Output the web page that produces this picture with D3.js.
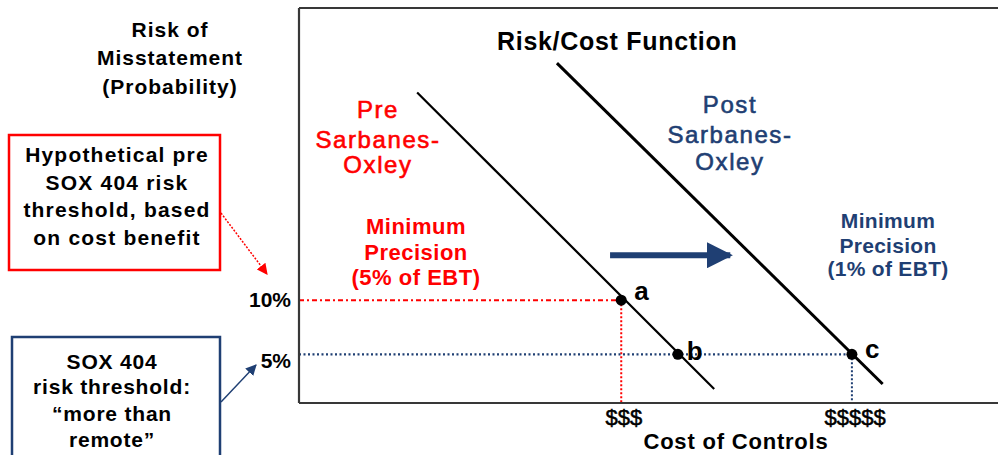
<!DOCTYPE html>
<html><head><meta charset="utf-8">
<script src="https://cdn.jsdelivr.net/npm/d3@7"></script>
<style>
html,body{margin:0;padding:0;background:#fff;}
svg{display:block;font-family:"Liberation Sans",Arial,sans-serif;}
</style></head>
<body>
<script>
// ---- data ----
const preLine = [{cost:16.9, risk:29.2},{cost:59.4, risk:1.8}];
const postLine = [{cost:36.9, risk:31.9},{cost:83.5, risk:2.26}];
const points = [
  {label:"a", cost:46.1, risk:10},
  {label:"b", cost:54.2, risk:5},
  {label:"c", cost:79.1, risk:5}
];
const yTickValues = [10, 5];
const yTickLabels = ["10%", "5%"];
const xTickValues = [46.4, 79.5];
const xTickLabels = ["$$$", "$$$$$"];
const shiftArrow = [{cost:44.5, risk:14.15},{cost:61.7, risk:14.15}];

const red = "#FF0000", navy = "#1F3F73", dark = "#383838";
const W = 998, H = 455;
const svg = d3.select("body").append("svg").attr("width", W).attr("height", H);

const x = d3.scaleLinear().domain([0, 100]).range([299, 998]);
const y = d3.scaleLinear().domain([0.5, 37]).range([403, 8]);

const defs = svg.append("defs");
function marker(id, color, size){
  defs.append("marker").attr("id", id).attr("viewBox","0 0 10 10")
    .attr("refX", 9).attr("refY", 5).attr("markerWidth", size).attr("markerHeight", size)
    .attr("markerUnits","userSpaceOnUse").attr("orient","auto")
    .append("path").attr("d","M0,0 L10,5 L0,10 Z").attr("fill", color);
}
marker("arrRed", red, 11);
marker("arrNavy", navy, 11);
marker("arrBig", navy, 26);

// ---- reference lines ----
const a = points[0], b = points[1], c = points[2];
svg.append("line").attr("x1", x(0)).attr("x2", x(a.cost)).attr("y1", y(a.risk)).attr("y2", y(a.risk))
  .attr("stroke", red).attr("stroke-width", 2).attr("stroke-dasharray", "5,3,2,3");
svg.append("line").attr("x1", x(a.cost)).attr("x2", x(a.cost)).attr("y1", y(a.risk)).attr("y2", y(0.5))
  .attr("stroke", red).attr("stroke-width", 2).attr("stroke-dasharray", "2,2");
svg.append("line").attr("x1", x(0)).attr("x2", x(c.cost)).attr("y1", y(c.risk)).attr("y2", y(c.risk))
  .attr("stroke", navy).attr("stroke-width", 2.2).attr("stroke-dasharray", "2,2.5");
svg.append("line").attr("x1", x(c.cost)).attr("x2", x(c.cost)).attr("y1", y(c.risk)).attr("y2", y(0.5))
  .attr("stroke", navy).attr("stroke-width", 2).attr("stroke-dasharray", "2,2");

// ---- frame / axes ----
svg.append("line").attr("x1", x(0)).attr("x2", W).attr("y1", y(37)).attr("y2", y(37))
  .attr("stroke", dark).attr("stroke-width", 2.2);

const yAxis = d3.axisLeft(y).tickValues(yTickValues).tickSize(0).tickPadding(8)
  .tickFormat((d,i) => yTickLabels[i]);
const gy = svg.append("g").attr("transform", `translate(${x(0)},0)`).call(yAxis);
gy.select(".domain").attr("stroke", dark).attr("stroke-width", 2.2).attr("d", `M0,${y(37)}V${y(0.5)}`);
gy.selectAll(".tick text").attr("font-size", 21).attr("font-weight", "bold").attr("fill", "#000")
  .attr("font-family", "Liberation Sans, Arial, sans-serif")
  .attr("dy", (d,i) => i === 0 ? "0.32em" : "0.65em");

const xAxis = d3.axisBottom(x).tickValues(xTickValues).tickSize(0).tickPadding(6)
  .tickFormat((d,i) => xTickLabels[i]);
const gx = svg.append("g").attr("transform", `translate(0,${y(0.5)})`).call(xAxis);
gx.select(".domain").attr("stroke", dark).attr("stroke-width", 2.2).attr("d", `M${x(0)},0H${W}`);
gx.selectAll(".tick text").attr("font-size", 22).attr("fill", "#000")
  .attr("stroke", "#000").attr("stroke-width", 0.5)
  .attr("font-family", "Liberation Sans, Arial, sans-serif");

// ---- function lines ----
const line = d3.line().x(d => x(d.cost)).y(d => y(d.risk));
svg.append("path").datum(preLine).attr("d", line).attr("stroke", "#000").attr("stroke-width", 2.2).attr("fill", "none");
svg.append("path").datum(postLine).attr("d", line).attr("stroke", "#000").attr("stroke-width", 3).attr("fill", "none");

// ---- points ----
svg.selectAll("circle.pt").data(points).join("circle").attr("class","pt")
  .attr("cx", d => x(d.cost)).attr("cy", d => y(d.risk)).attr("r", 5.5).attr("fill", "#000");
const lblOff = {a:[13,0], b:[9,6], c:[13,4]};
svg.selectAll("text.pt").data(points).join("text").attr("class","pt")
  .attr("x", d => x(d.cost) + lblOff[d.label][0]).attr("y", d => y(d.risk) + lblOff[d.label][1])
  .attr("font-size", 26).attr("font-weight", "bold").text(d => d.label);

// ---- shift arrow ----
svg.append("path").datum(shiftArrow).attr("d", line).attr("stroke", navy).attr("stroke-width", 6)
  .attr("fill", "none").attr("marker-end", "url(#arrBig)");

// ---- text helpers ----
function block(lines, cx, baselines, opts){
  const t = svg.append("text").attr("text-anchor", opts.anchor || "middle")
    .attr("font-size", opts.size).attr("font-weight", opts.weight || "normal")
    .attr("fill", opts.color || "#000").attr("letter-spacing", opts.ls || 0);
  if (opts.thick) t.attr("stroke", opts.color || "#000").attr("stroke-width", opts.thick);
  lines.forEach((s,i) => t.append("tspan").attr("x", cx).attr("y", baselines[i]).text(s));
}

block(["Risk/Cost Function"], 497, [50], {size:25, weight:"bold", anchor:"start", ls:0.7});
block(["Risk of", "Misstatement", "(Probability)"], 170, [37, 65, 94], {size:21, weight:"bold", ls:1});
block(["Pre", "Sarbanes-", "Oxley"], 378, [118, 148, 173], {size:24, color:red, ls:1.6, thick:0.6});
block(["Post", "Sarbanes-", "Oxley"], 730, [113, 143, 170], {size:24, color:navy, ls:1.6, thick:0.6});
block(["Minimum", "Precision", "(5% of EBT)"], 416, [234, 260, 285], {size:22, weight:"bold", color:red, ls:0.5});
block(["Minimum", "Precision", "(1% of EBT)"], 888, [228, 253, 276], {size:21, weight:"bold", color:navy, ls:0.3});
block(["Cost of Controls"], 736, [449], {size:22, weight:"bold", ls:0.8});

// ---- callout boxes ----
svg.append("rect").attr("x", 9).attr("y", 135).attr("width", 211).attr("height", 135)
  .attr("fill", "none").attr("stroke", red).attr("stroke-width", 2.5);
block(["Hypothetical pre", "SOX 404 risk", "threshold, based", "on cost benefit"], 117, [162, 190, 217, 245], {size:21, weight:"bold", ls:1.2});
svg.append("line").attr("x1", 221).attr("y1", 213).attr("x2", 267).attr("y2", 274)
  .attr("stroke", red).attr("stroke-width", 1.5).attr("stroke-dasharray", "2,1.5").attr("marker-end", "url(#arrRed)");

svg.append("rect").attr("x", 12).attr("y", 337).attr("width", 208).attr("height", 140)
  .attr("fill", "none").attr("stroke", navy).attr("stroke-width", 2.5);
block(["SOX 404", "risk threshold:", "\u201Cmore than", "remote\u201D"], 112, [369, 394, 421, 447], {size:21, weight:"bold", ls:0.8});
svg.append("line").attr("x1", 221).attr("y1", 402).attr("x2", 256).attr("y2", 365)
  .attr("stroke", navy).attr("stroke-width", 1.5).attr("marker-end", "url(#arrNavy)");
</script>
</body></html>
